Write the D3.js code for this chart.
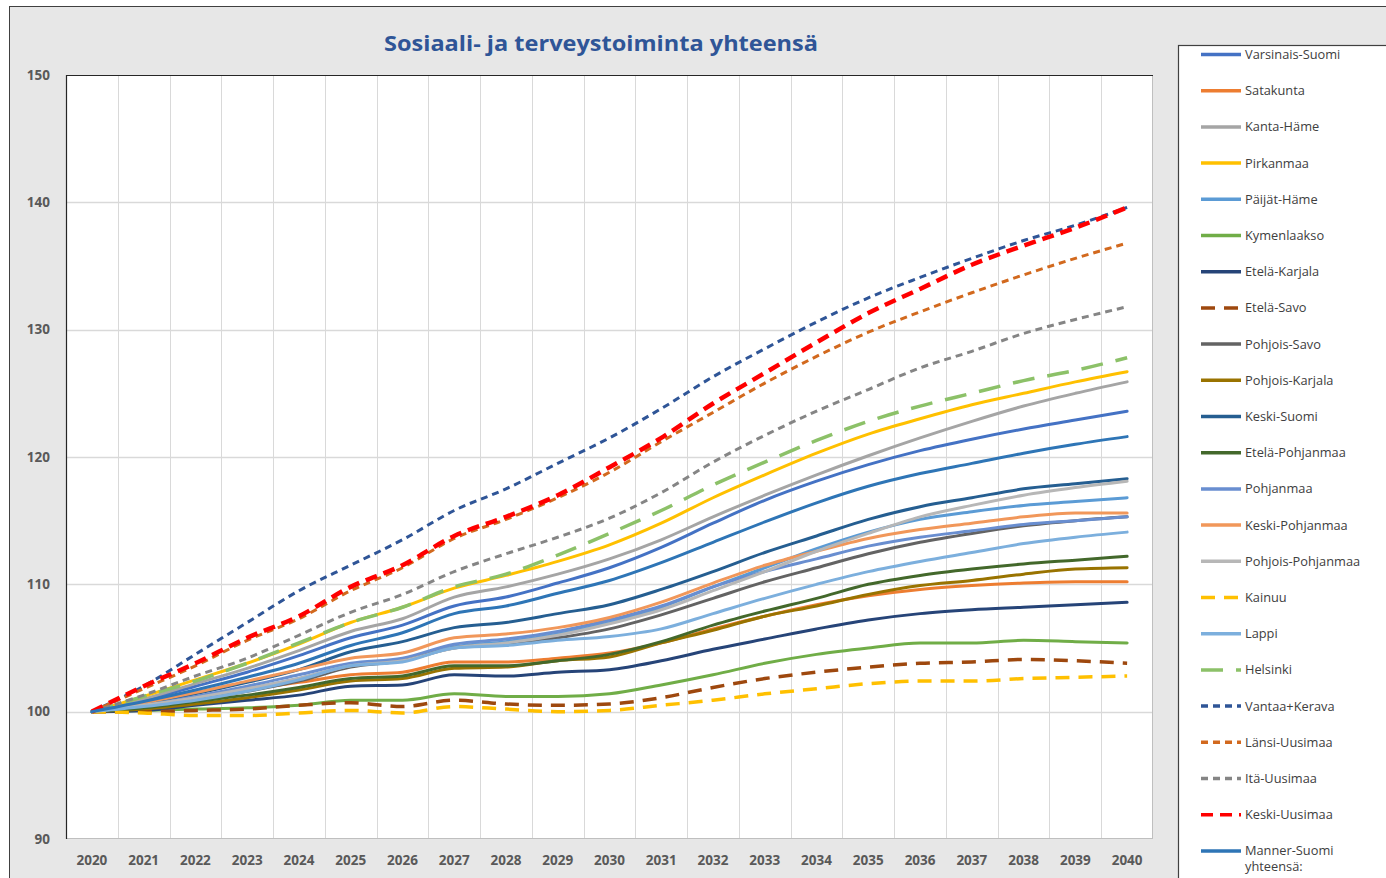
<!DOCTYPE html>
<html>
<head>
<meta charset="utf-8">
<script src="https://cdn.jsdelivr.net/npm/d3@7"></script>
<style>
  body { margin: 0; background: #ffffff; }
  #chart { width: 1386px; height: 878px; overflow: hidden; }
  .axis text { font-family: "Open Sans", "Noto Sans", sans-serif; font-weight: bold; font-size: 13.5px; fill: #595959; }
  .legend text { font-family: "Open Sans", "Noto Sans", sans-serif; font-size: 12.8px; fill: #404040; }
</style>
</head>
<body>
<div id="chart"></div>
<script>
// Sosiaali- ja terveystoiminta yhteensä, indeksi 2020 = 100

var years = [2020, 2021, 2022, 2023, 2024, 2025, 2026, 2027, 2028, 2029, 2030,
             2031, 2032, 2033, 2034, 2035, 2036, 2037, 2038, 2039, 2040];

var yTicks = [90, 100, 110, 120, 130, 140, 150];

var titleText = "Sosiaali- ja terveystoiminta yhteensä";

var seriesNames = [
  "Varsinais-Suomi", "Satakunta", "Kanta-Häme", "Pirkanmaa", "Päijät-Häme",
  "Kymenlaakso", "Etelä-Karjala", "Etelä-Savo", "Pohjois-Savo", "Pohjois-Karjala",
  "Keski-Suomi", "Etelä-Pohjanmaa", "Pohjanmaa", "Keski-Pohjanmaa", "Pohjois-Pohjanmaa",
  "Kainuu", "Lappi", "Helsinki", "Vantaa+Kerava", "Länsi-Uusimaa",
  "Itä-Uusimaa", "Keski-Uusimaa", "Manner-Suomi yhteensä:"
];

// values, one array per region
var varsinaisSuomi = [100, 100.9, 102.0, 103.1, 104.4, 105.8, 106.8, 108.3, 109.0, 110.1, 111.3, 112.9, 114.8, 116.6, 118.1, 119.4, 120.5, 121.4, 122.2, 122.9, 123.6];
var satakunta      = [100, 100.4, 101.0, 101.7, 102.3, 102.9, 103.1, 103.9, 103.9, 104.2, 104.6, 105.4, 106.5, 107.5, 108.4, 109.1, 109.6, 109.9, 110.1, 110.2, 110.2];
var kantaHame      = [100, 101.0, 102.2, 103.4, 104.8, 106.3, 107.3, 109.0, 109.8, 110.8, 112.0, 113.5, 115.3, 117.0, 118.6, 120.1, 121.5, 122.8, 124.0, 125.0, 125.9];
var pirkanmaa      = [100, 101.2, 102.5, 103.8, 105.3, 107.0, 108.2, 109.7, 110.7, 111.8, 113.1, 114.8, 116.8, 118.6, 120.3, 121.8, 123.0, 124.1, 125.0, 125.9, 126.7];
var paijatHame     = [100, 100.5, 101.1, 101.8, 102.6, 103.6, 104.0, 105.1, 105.5, 106.1, 107.0, 108.2, 109.8, 111.3, 112.8, 114.1, 115.1, 115.7, 116.2, 116.5, 116.8];
var kymenlaakso    = [100, 100.1, 100.2, 100.3, 100.5, 100.9, 100.9, 101.4, 101.2, 101.2, 101.4, 102.1, 102.9, 103.8, 104.5, 105.0, 105.4, 105.4, 105.6, 105.5, 105.4];
var etelaKarjala   = [100, 100.1, 100.5, 100.9, 101.3, 102.0, 102.1, 102.9, 102.8, 103.1, 103.3, 104.0, 104.9, 105.7, 106.5, 107.2, 107.7, 108.0, 108.2, 108.4, 108.6];
var etelaSavo      = [100, 100.0, 100.1, 100.2, 100.5, 100.7, 100.4, 100.9, 100.6, 100.5, 100.6, 101.1, 101.9, 102.6, 103.1, 103.5, 103.8, 103.9, 104.1, 104.0, 103.8];
var pohjoisSavo    = [100, 100.4, 100.9, 101.6, 102.4, 103.5, 104.0, 105.0, 105.3, 105.8, 106.5, 107.6, 108.9, 110.2, 111.3, 112.4, 113.3, 114.0, 114.6, 115.0, 115.3];
var pohjoisKarjala = [100, 100.2, 100.6, 101.1, 101.7, 102.4, 102.6, 103.4, 103.5, 104.0, 104.3, 105.4, 106.4, 107.5, 108.3, 109.2, 109.9, 110.3, 110.8, 111.2, 111.3];
var keskiSuomi     = [100, 100.6, 101.4, 102.3, 103.3, 104.7, 105.5, 106.6, 107.0, 107.7, 108.4, 109.6, 111.0, 112.5, 113.8, 115.1, 116.1, 116.8, 117.5, 117.9, 118.3];
var etelaPohjanmaa = [100, 100.3, 100.8, 101.3, 101.9, 102.6, 102.8, 103.6, 103.6, 104.0, 104.5, 105.5, 106.8, 107.9, 108.9, 110.0, 110.7, 111.2, 111.6, 111.9, 112.2];
var pohjanmaa      = [100, 100.5, 101.2, 102.0, 102.9, 103.8, 104.2, 105.3, 105.7, 106.3, 107.2, 108.3, 109.8, 111.0, 112.0, 113.0, 113.7, 114.2, 114.7, 115.0, 115.3];
var keskiPohjanmaa = [100, 100.7, 101.5, 102.4, 103.3, 104.2, 104.6, 105.8, 106.1, 106.6, 107.4, 108.6, 110.1, 111.5, 112.6, 113.6, 114.3, 114.8, 115.3, 115.6, 115.6];
var pohjoisPohjanmaa = [100, 100.5, 101.1, 101.8, 102.6, 103.6, 104.0, 105.0, 105.4, 106.0, 106.9, 108.0, 109.5, 111.0, 112.6, 114.0, 115.3, 116.2, 117.0, 117.6, 118.1];
var kainuu         = [100, 99.9, 99.7, 99.7, 99.9, 100.1, 99.9, 100.4, 100.2, 100.0, 100.1, 100.5, 100.9, 101.4, 101.8, 102.2, 102.4, 102.4, 102.6, 102.7, 102.8];
var lappi          = [100, 100.4, 100.9, 101.6, 102.5, 103.6, 103.9, 105.0, 105.2, 105.6, 105.9, 106.5, 107.7, 108.9, 110.0, 111.0, 111.8, 112.5, 113.2, 113.7, 114.1];
var helsinki       = [100, 101.2, 102.4, 103.8, 105.4, 107.0, 108.2, 109.8, 110.8, 112.3, 114.0, 115.8, 117.8, 119.6, 121.3, 122.8, 124.0, 125.0, 126.0, 126.8, 127.8];
var vantaaKerava   = [100, 102.0, 104.5, 107.0, 109.5, 111.5, 113.5, 115.8, 117.5, 119.5, 121.5, 123.8, 126.3, 128.5, 130.6, 132.5, 134.1, 135.6, 137.0, 138.2, 139.6];
var lansiUusimaa   = [100, 101.8, 103.6, 105.6, 107.3, 109.5, 111.3, 113.6, 115.1, 116.8, 118.8, 121.2, 123.5, 125.8, 127.9, 129.8, 131.4, 132.9, 134.3, 135.6, 136.8];
var itaUusimaa     = [100, 101.3, 102.8, 104.2, 106.0, 107.8, 109.2, 111.0, 112.4, 113.7, 115.2, 117.2, 119.6, 121.7, 123.6, 125.3, 127.0, 128.3, 129.7, 130.8, 131.8];
var keskiUusimaa   = [100, 102.0, 103.8, 105.8, 107.5, 109.8, 111.5, 113.8, 115.3, 117.0, 119.2, 121.5, 124.2, 126.6, 129.0, 131.3, 133.2, 135.1, 136.6, 138.0, 139.6];
var mannerSuomi    = [100, 100.8, 101.7, 102.7, 103.8, 105.2, 106.2, 107.7, 108.3, 109.3, 110.3, 111.7, 113.3, 114.9, 116.4, 117.7, 118.7, 119.5, 120.3, 121.0, 121.6];

var seriesValues = [
  varsinaisSuomi, satakunta, kantaHame, pirkanmaa, paijatHame,
  kymenlaakso, etelaKarjala, etelaSavo, pohjoisSavo, pohjoisKarjala,
  keskiSuomi, etelaPohjanmaa, pohjanmaa, keskiPohjanmaa, pohjoisPohjanmaa,
  kainuu, lappi, helsinki, vantaaKerava, lansiUusimaa,
  itaUusimaa, keskiUusimaa, mannerSuomi
];

// styles, in the same order as the names
var seriesColors = [
  "#4472c4", "#ed7d31", "#a5a5a5", "#ffc000", "#5b9bd5",
  "#70ad47", "#264478", "#9e480e", "#636363", "#997300",
  "#255e91", "#43682b", "#698ed0", "#f1975a", "#b7b7b7",
  "#ffc000", "#7cafdd", "#8cc168", "#2f5597", "#d2691e",
  "#858585", "#ff0000", "#2e75b6"
];
var seriesDash = [
  null, null, null, null, null,
  null, null, "14,9", null, null,
  null, null, null, null, null,
  "14,9", null, "22,13", "7,5", "7,5",
  "7,5", "12,7", null
];
var seriesWidth = [
  3, 3, 3, 3, 3,
  3, 3, 3.5, 3, 3,
  3, 3, 3, 3, 3,
  3.5, 3, 3.5, 3, 3,
  3, 4.5, 3
];

var chartWidth = 1386, chartHeight = 878;
var plot = {left: 66, right: 1153, top: 75, bottom: 839};

var svg = d3.select("#chart")
  .append("svg")
  .attr("width", chartWidth)
  .attr("height", chartHeight);

// chart area background
svg.append("rect")
  .attr("x", 9.5).attr("y", 6.5)
  .attr("width", 1400).attr("height", 900)
  .attr("fill", "#e7e7e7")
  .attr("stroke", "#404040")
  .attr("stroke-width", 1);

svg.append("rect")
  .attr("x", plot.left).attr("y", plot.top)
  .attr("width", plot.right - plot.left)
  .attr("height", plot.bottom - plot.top)
  .attr("fill", "#ffffff");

var band = d3.scaleBand()
  .domain(years)
  .range([plot.left, plot.right]);

var xScale = function(yr) { return band(yr) + band.bandwidth() / 2; };

var yScale = d3.scaleLinear()
  .domain([90, 150])
  .range([plot.bottom, plot.top]);

// gridlines
var grid = svg.append("g").attr("class", "grid");
grid.selectAll("line.v")
  .data(years.slice(1))
  .enter().append("line")
  .attr("class", "v")
  .attr("x1", function(d) { return Math.round(band(d)) + 0.5; })
  .attr("x2", function(d) { return Math.round(band(d)) + 0.5; })
  .attr("y1", plot.top).attr("y2", plot.bottom)
  .attr("stroke", "#d9d9d9");
grid.selectAll("line.h")
  .data(yTicks.slice(1, -1))
  .enter().append("line")
  .attr("class", "h")
  .attr("x1", plot.left).attr("x2", plot.right)
  .attr("y1", function(d) { return Math.round(yScale(d)) + 0.5; })
  .attr("y2", function(d) { return Math.round(yScale(d)) + 0.5; })
  .attr("stroke", "#d9d9d9")
  .attr("stroke-width", 1.5);

// plot border
svg.append("rect")
  .attr("x", plot.left + 0.5).attr("y", plot.top + 0.5)
  .attr("width", plot.right - plot.left - 1)
  .attr("height", plot.bottom - plot.top - 1)
  .attr("fill", "none")
  .attr("stroke", "#bfbfbf");
svg.append("path")
  .attr("d", "M" + (plot.left + 0.5) + "," + plot.bottom + "V" + (plot.top + 0.5) + "H" + plot.right)
  .attr("fill", "none")
  .attr("stroke", "#262626")
  .attr("stroke-width", 1.2);

// axes
svg.append("g")
  .attr("class", "x axis")
  .attr("transform", "translate(0," + plot.bottom + ")")
  .call(d3.axisBottom(band).tickSize(0).tickPadding(16))
  .call(function(g) { g.select(".domain").remove(); });

svg.append("g")
  .attr("class", "y axis")
  .attr("transform", "translate(" + plot.left + ",0)")
  .call(d3.axisLeft(yScale).tickValues(yTicks).tickSize(0).tickPadding(16))
  .call(function(g) { g.select(".domain").remove(); });

// title
svg.append("text")
  .attr("x", 601)
  .attr("y", 51)
  .attr("text-anchor", "middle")
  .attr("font-family", "'Open Sans', 'Noto Sans', sans-serif")
  .attr("font-weight", "bold")
  .attr("font-size", 22)
  .attr("textLength", 434)
  .attr("lengthAdjust", "spacingAndGlyphs")
  .attr("fill", "#2f5597")
  .text(titleText);

// data lines (excel-ish light smoothing)
var line = d3.line()
  .x(function(d, i) { return xScale(years[i]); })
  .y(function(d) { return yScale(d); })
  .curve(d3.curveMonotoneX);

svg.append("clipPath").attr("id", "plotclip")
  .append("rect")
  .attr("x", plot.left).attr("y", plot.top)
  .attr("width", plot.right - plot.left)
  .attr("height", plot.bottom - plot.top);

svg.append("g")
  .attr("clip-path", "url(#plotclip)")
  .selectAll("path.line")
  .data(seriesValues)
  .enter().append("path")
  .attr("class", "line")
  .attr("d", line)
  .attr("fill", "none")
  .attr("stroke", function(d, i) { return seriesColors[i]; })
  .attr("stroke-width", function(d, i) { return seriesWidth[i]; })
  .attr("stroke-dasharray", function(d, i) { return seriesDash[i]; })
  .attr("stroke-linejoin", "round")
  .attr("stroke-linecap", function(d, i) { return seriesDash[i] ? "butt" : "round"; });

// legend
var legendBox = svg.append("g").attr("class", "legend");
legendBox.append("rect")
  .attr("x", 1178.5).attr("y", 45.5)
  .attr("width", 300).attr("height", 900)
  .attr("fill", "#ffffff")
  .attr("stroke", "#404040")
  .attr("stroke-width", 1.2);

var legendStep = 36.2;
var item = legendBox.selectAll("g.item")
  .data(seriesNames)
  .enter().append("g")
  .attr("class", "item")
  .attr("transform", function(d, i) { return "translate(0," + (54.5 + i * legendStep) + ")"; });

item.append("line")
  .attr("x1", 1201).attr("x2", 1241)
  .attr("y1", 0).attr("y2", 0)
  .attr("stroke", function(d, i) { return seriesColors[i]; })
  .attr("stroke-width", 3.5)
  .attr("stroke-dasharray", function(d, i) { return seriesDash[i]; });

item.append("text")
  .attr("x", 1245)
  .attr("y", 4.5)
  .each(function(d) {
    var t = d3.select(this);
    var parts = d === "Manner-Suomi yhteensä:" ? ["Manner-Suomi", "yhteensä:"] : [d];
    parts.forEach(function(p, k) {
      t.append("tspan").attr("x", 1245).attr("dy", k === 0 ? 0 : 16).text(p);
    });
  });
</script>
</body>
</html>
